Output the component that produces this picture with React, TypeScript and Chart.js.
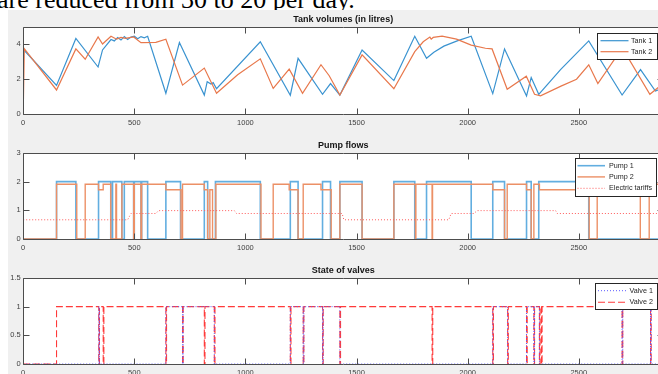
import React, { useEffect, useRef } from "react";
import { Chart, registerables } from "chart.js";

Chart.register(...registerables);

// ---------- tick labels ----------
const timeTicks = [0, 500, 1000, 1500, 2000, 2500];
const tankTicks = [0, 2, 4];
const pumpTicks = [0, 1, 2, 3];
const valveTicks = [0, 0.5, 1, 1.5];

// ---------- tank volumes ----------
const tank1Times = [0, 150, 237, 337, 357, 395, 410, 425, 440, 455, 470, 485, 500, 515, 530, 545, 560, 642, 703, 815, 828, 845, 855, 870, 1067, 1202, 1237, 1347, 1383, 1425, 1525, 1668, 1762, 1815, 1848, 1893, 1953, 2016, 2113, 2166, 2265, 2286, 2320, 2418, 2545, 2695, 2778, 2845, 2880];
const tank1Values = [3.72, 1.64, 4.34, 2.7, 3.68, 4.28, 4.2, 4.4, 4.25, 4.45, 4.28, 4.42, 4.47, 4.32, 4.45, 4.38, 4.47, 1.19, 4.11, 1.09, 1.86, 1.72, 1.8, 1.45, 4.15, 1.08, 3.2, 1.13, 1.75, 1.09, 3.68, 1.92, 4.47, 3.2, 3.55, 3.9, 4.2, 4.47, 1.17, 3.74, 1.04, 2.1, 1.13, 2.55, 4.2, 1.09, 2.55, 1.32, 1.5];

const tank2Times = [0, 5, 150, 237, 279, 337, 357, 395, 420, 440, 460, 497, 530, 597, 642, 717, 815, 870, 965, 1067, 1125, 1197, 1257, 1340, 1377, 1425, 1525, 1668, 1762, 1800, 1830, 1836, 1845, 1885, 1950, 2016, 2080, 2110, 2178, 2264, 2301, 2328, 2420, 2490, 2545, 2586, 2696, 2820, 2880];
const tank2Values = [0, 3.75, 1.38, 3.74, 3.15, 4.43, 4.02, 4.47, 4.3, 4.4, 4.35, 4.43, 4.1, 4.12, 4.3, 1.66, 2.64, 1.19, 2.26, 3.17, 1.47, 2.58, 1.19, 2.83, 2.2, 1.09, 3.4, 1.45, 3.58, 4.15, 4.42, 4.3, 4.4, 4.47, 4.3, 3.96, 3.78, 3.74, 1.42, 2.17, 1.13, 1.04, 1.6, 2.0, 2.83, 1.75, 3.8, 1.13, 1.75];

// ---------- pump flows (value holds from each time on) ----------
const pump1Times = [0, 150, 237, 339, 394, 402, 444, 455, 497, 500, 530, 533, 560, 642, 708, 815, 830, 865, 1067, 1202, 1237, 1347, 1383, 1425, 1525, 1668, 1762, 1815, 2016, 2113, 2166, 2265, 2286, 2320, 2545, 2880];
const pump1Values = [0, 2, 0, 2, 0, 2, 0, 2, 0, 2, 0, 2, 0, 2, 0, 2, 0, 2, 0, 2, 0, 2, 0, 2, 0, 2, 0, 2, 0, 2, 0, 2, 0, 2, 0, 0];

const pump2Times = [0, 150, 241, 279, 339, 360, 394, 417, 420, 444, 497, 500, 530, 533, 642, 710, 717, 815, 830, 840, 852, 867, 1070, 1125, 1197, 1237, 1260, 1340, 1386, 1425, 1525, 1668, 1765, 1767, 1840, 1842, 2113, 2166, 2178, 2265, 2286, 2298, 2323, 2547, 2583, 2777, 2817, 2880];
const pump2Values = [0, 1.91, 0, 1.91, 1.72, 1.91, 0, 1.91, 0, 1.91, 0, 1.91, 0, 1.91, 1.72, 0, 1.91, 1.72, 0, 1.72, 0, 1.91, 0, 1.91, 1.72, 0, 1.91, 1.72, 0, 1.91, 0, 1.91, 0, 1.91, 0, 1.91, 1.72, 0, 1.91, 1.72, 0, 1.91, 1.72, 0, 1.91, 0, 1.91, 1.91];

const tariffTimes = [0, 470, 485, 597, 609, 950, 960, 1435, 1443, 1915, 1926, 2028, 2043, 2396, 2403, 2880];
const tariffValues = [0.67, 0.67, 0.89, 0.89, 0.99, 0.99, 0.89, 0.89, 0.67, 0.67, 0.89, 0.89, 0.99, 0.99, 0.89, 0.89];

// ---------- valves (value holds from each time on) ----------
const valve1Times = [0, 340, 343, 642, 717, 720, 860, 1202, 1260, 1263, 1347, 1350, 1425, 2113, 2180, 2265, 2298, 2301, 2323, 2695, 2698, 2823, 2826, 2880];
const valve1Values = [0, 1, 0, 1, 0, 1, 0, 1, 0, 1, 0, 1, 0, 1, 0, 1, 0, 1, 0, 1, 0, 1, 0, 0];

const valve2Times = [0, 150, 340, 343, 360, 363, 642, 645, 717, 720, 815, 818, 860, 863, 1202, 1205, 1260, 1263, 1347, 1350, 1425, 1428, 1840, 1843, 2113, 2116, 2180, 2183, 2265, 2268, 2298, 2301, 2323, 2326, 2332, 2335, 2695, 2698, 2823, 2826, 2880];
const valve2Values = [0, 1, 0, 1, 0, 1, 0, 1, 0, 1, 0, 1, 0, 1, 0, 1, 0, 1, 0, 1, 0, 1, 0, 1, 0, 1, 0, 1, 0, 1, 0, 1, 0, 1, 0, 1, 0, 1, 0, 1, 1];

const zip = (ts: number[], vs: number[]) => ts.map((t, i) => ({ x: t, y: vs[i] }));

const FONT = "'Liberation Sans', Arial, Helvetica, sans-serif";
const CANVAS_W = 670;

interface LegendSpec {
  left: number;
  top: number;
  width: number;
  height: number;
  rows: number[];
  lineFrom: number;
  lineTo: number;
  textX: number;
}

interface PanelSpec {
  top: number;
  height: number;
  padTop: number;
  title: string;
  yMax: number;
  yTicks: number[];
  legend: LegendSpec;
  datasets: any[];
}

function makeDecor(spec: PanelSpec) {
  return {
    id: "panelDecor",
    beforeDraw(chart: any) {
      const { ctx, chartArea: a } = chart;
      ctx.save();
      ctx.fillStyle = "#ffffff";
      ctx.fillRect(a.left, a.top, a.right - a.left, a.bottom - a.top);
      ctx.restore();
    },
    afterDatasetsDraw(chart: any) {
      const { ctx, chartArea: a, scales } = chart;
      const L = Math.floor(a.left) + 0.5;
      const T = Math.round(a.top) + 0.5;
      const B = Math.round(a.bottom) + 0.5;
      const R = Math.round(a.right) + 0.5;
      ctx.save();
      ctx.strokeStyle = "#4d4d4d";
      ctx.lineWidth = 1;
      ctx.setLineDash([]);
      ctx.beginPath();
      ctx.rect(L, T, R - L, B - T);
      const tl = 6;
      for (const v of timeTicks) {
        const px = Math.round(scales.x.getPixelForValue(v)) + 0.5;
        ctx.moveTo(px, B);
        ctx.lineTo(px, B - tl);
        ctx.moveTo(px, T);
        ctx.lineTo(px, T + tl);
      }
      for (const v of spec.yTicks) {
        const py = Math.round(scales.y.getPixelForValue(v)) + 0.5;
        ctx.moveTo(L, py);
        ctx.lineTo(L + tl, py);
        ctx.moveTo(R, py);
        ctx.lineTo(R - tl, py);
      }
      ctx.stroke();

      // title
      ctx.fillStyle = "#141414";
      ctx.font = `bold 9px ${FONT}`;
      ctx.textAlign = "center";
      ctx.textBaseline = "middle";
      ctx.fillText(spec.title, (a.left + a.right) / 2, a.top - 7);

      // legend
      const lg = spec.legend;
      const off = spec.top;
      ctx.fillStyle = "#ffffff";
      ctx.fillRect(lg.left, lg.top - off, lg.width, lg.height);
      ctx.strokeStyle = "#262626";
      ctx.strokeRect(lg.left, lg.top - off, lg.width, lg.height);
      ctx.font = `7.2px ${FONT}`;
      ctx.textAlign = "left";
      ctx.textBaseline = "middle";
      chart.data.datasets.forEach((ds: any, i: number) => {
        const y = lg.rows[i] - off;
        ctx.save();
        ctx.strokeStyle = ds.borderColor;
        ctx.lineWidth = ds.borderWidth || 1;
        ctx.setLineDash(ds.borderDash || []);
        ctx.beginPath();
        ctx.moveTo(lg.lineFrom, y);
        ctx.lineTo(lg.lineTo, y);
        ctx.stroke();
        ctx.restore();
        ctx.fillStyle = "#262626";
        ctx.fillText(ds.label, lg.textX, y);
      });
      ctx.restore();
    },
  };
}

function buildChart(canvas: HTMLCanvasElement, spec: PanelSpec) {
  const tickFont = { family: FONT, size: 7.5 };
  return new Chart(canvas, {
    type: "line",
    data: { datasets: spec.datasets },
    options: {
      animation: false,
      responsive: false,
      devicePixelRatio: 1,
      layout: { padding: { top: spec.padTop, right: CANVAS_W - 663.2, bottom: 0, left: 0 } },
      elements: { point: { radius: 0 }, line: { tension: 0 } },
      plugins: {
        legend: { display: false },
        tooltip: { enabled: false },
        title: { display: false },
      },
      scales: {
        x: {
          type: "linear",
          min: 0,
          max: 2880,
          afterBuildTicks: (s: any) => {
            s.ticks = timeTicks.map((v) => ({ value: v }));
          },
          afterFit: (s: any) => {
            s.height = 20;
          },
          grid: { display: false, drawTicks: false },
          border: { display: false },
          ticks: {
            font: tickFont,
            color: "#404040",
            padding: 4,
            maxRotation: 0,
            autoSkip: false,
            callback: (v: any) => String(v),
          },
        },
        y: {
          type: "linear",
          min: 0,
          max: spec.yMax,
          afterBuildTicks: (s: any) => {
            s.ticks = spec.yTicks.map((v) => ({ value: v }));
          },
          afterFit: (s: any) => {
            s.width = 23.2;
          },
          grid: { display: false, drawTicks: false },
          border: { display: false },
          ticks: {
            font: tickFont,
            color: "#404040",
            padding: 2.5,
            autoSkip: false,
            callback: (v: any) => String(v),
          },
        },
      },
    } as any,
    plugins: [makeDecor(spec) as any],
  });
}

const panels: PanelSpec[] = [
  {
    top: 0,
    height: 134,
    padTop: 27,
    title: "Tank volumes (in litres)",
    yMax: 5,
    yTicks: tankTicks,
    legend: { left: 597.5, top: 33.5, width: 60, height: 26, rows: [40.7, 51.7], lineFrom: 600.5, lineTo: 628.5, textX: 631 },
    datasets: [
      { label: "Tank 1", data: zip(tank1Times, tank1Values), borderColor: "#3a93d0", borderWidth: 1.2, order: 1 },
      { label: "Tank 2", data: zip(tank2Times, tank2Values), borderColor: "#e8784c", borderWidth: 1.2, order: 0 },
    ],
  },
  {
    top: 125,
    height: 134,
    padTop: 28,
    title: "Pump flows",
    yMax: 3,
    yTicks: pumpTicks,
    legend: { left: 575.5, top: 158.5, width: 81, height: 38, rows: [165.7, 176.9, 188.3], lineFrom: 577.5, lineTo: 605, textX: 609 },
    datasets: [
      { label: "Pump 1", data: zip(pump1Times, pump1Values), stepped: true, borderColor: "#62aee0", borderWidth: 1.6, order: 2 },
      { label: "Pump 2", data: zip(pump2Times, pump2Values), stepped: true, borderColor: "#ec9066", borderWidth: 1.4, order: 1 },
      { label: "Electric tariffs", data: zip(tariffTimes, tariffValues), borderColor: "#ff5a5a", borderWidth: 1, borderDash: [1, 2], order: 0 },
    ],
  },
  {
    top: 250,
    height: 134,
    padTop: 28,
    title: "State of valves",
    yMax: 1.5,
    yTicks: valveTicks,
    legend: { left: 595.5, top: 283.5, width: 62, height: 26, rows: [290.7, 302.3], lineFrom: 598, lineTo: 626, textX: 629.5 },
    datasets: [
      { label: "Valve 1", data: zip(valve1Times, valve1Values), stepped: true, borderColor: "#5b5bff", borderWidth: 1, borderDash: [1, 2], order: 0 },
      { label: "Valve 2", data: zip(valve2Times, valve2Values), stepped: true, borderColor: "#ff3a3a", borderWidth: 1.1, borderDash: [7, 3], order: 1 },
    ],
  },
];

export default function App() {
  const r0 = useRef<HTMLCanvasElement>(null);
  const r1 = useRef<HTMLCanvasElement>(null);
  const r2 = useRef<HTMLCanvasElement>(null);
  const refs = [r0, r1, r2];

  useEffect(() => {
    const charts = refs.map((r, i) => buildChart(r.current as HTMLCanvasElement, panels[i]));
    return () => charts.forEach((c) => c.destroy());
  }, []);

  return (
    <div
      style={{
        position: "fixed",
        left: 0,
        top: 0,
        width: 658,
        height: 374,
        overflow: "hidden",
        background: "#ffffff",
      }}
    >
      <div
        style={{
          position: "absolute",
          left: -3,
          top: -13,
          fontFamily: "'Liberation Serif', 'Times New Roman', serif",
          fontSize: 26,
          lineHeight: "26px",
          whiteSpace: "nowrap",
          color: "#000",
        }}
      >
        are reduced from 30 to 20 per day.
      </div>
      <div
        style={{
          position: "absolute",
          left: 8,
          top: 10,
          width: 650,
          height: 364,
          background: "#f0f0f0",
        }}
      />
      {panels.map((p, i) => (
        <canvas
          key={i}
          ref={refs[i]}
          width={CANVAS_W}
          height={p.height}
          style={{ position: "absolute", left: 0, top: p.top, width: CANVAS_W, height: p.height }}
        />
      ))}
    </div>
  );
}
